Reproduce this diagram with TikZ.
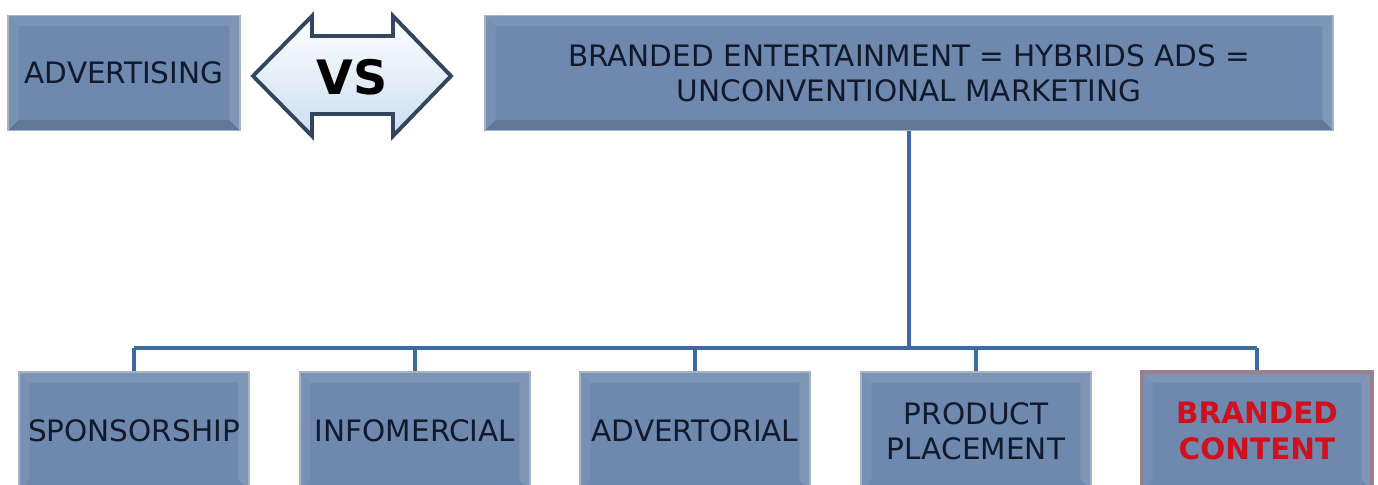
\documentclass[tikz,border=0pt]{standalone}
\usepackage{fontspec}
\setmainfont{DejaVu Sans}
\usetikzlibrary{calc}
\definecolor{boxblue}{HTML}{6E88AE}
\definecolor{boxedge}{HTML}{A7B2C2}
\definecolor{textnavy}{HTML}{111A2C}
\definecolor{linkblue}{HTML}{3F69A3}
\definecolor{vsred}{HTML}{D0101C}
\definecolor{vsfill}{HTML}{CADDF1}
\definecolor{vsedge}{HTML}{34465F}
\definecolor{hiedge}{HTML}{9A7F8C}

\begin{document}
\begin{tikzpicture}[x=0.02cm,y=-0.02cm,
  % bevel strips on top, left and right edge
  bevelsides/.style={path picture={
    \fill[white,opacity=0.10] (path picture bounding box.north west) -- (path picture bounding box.north east)
      -- ([shift={(-6pt,-6pt)}]path picture bounding box.north east) -- ([shift={(6pt,-6pt)}]path picture bounding box.north west) -- cycle;
    \fill[white,opacity=0.07] (path picture bounding box.north west) -- (path picture bounding box.south west)
      -- ([shift={(6pt,6pt)}]path picture bounding box.south west) -- ([shift={(6pt,-6pt)}]path picture bounding box.north west) -- cycle;
    \fill[white,opacity=0.12] (path picture bounding box.north east) -- (path picture bounding box.south east)
      -- ([shift={(-6pt,6pt)}]path picture bounding box.south east) -- ([shift={(-6pt,-6pt)}]path picture bounding box.north east) -- cycle;
  }},
  % same, with the darker bottom strip
  bevel/.style={path picture={
    \fill[white,opacity=0.10] (path picture bounding box.north west) -- (path picture bounding box.north east)
      -- ([shift={(-6pt,-6pt)}]path picture bounding box.north east) -- ([shift={(6pt,-6pt)}]path picture bounding box.north west) -- cycle;
    \fill[white,opacity=0.07] (path picture bounding box.north west) -- (path picture bounding box.south west)
      -- ([shift={(6pt,6pt)}]path picture bounding box.south west) -- ([shift={(6pt,-6pt)}]path picture bounding box.north west) -- cycle;
    \fill[white,opacity=0.12] (path picture bounding box.north east) -- (path picture bounding box.south east)
      -- ([shift={(-6pt,6pt)}]path picture bounding box.south east) -- ([shift={(-6pt,-6pt)}]path picture bounding box.north east) -- cycle;
    \fill[black,opacity=0.12] (path picture bounding box.south west) -- (path picture bounding box.south east)
      -- ([shift={(-6pt,6pt)}]path picture bounding box.south east) -- ([shift={(6pt,6pt)}]path picture bounding box.south west) -- cycle;
  }},
  tile/.style={rectangle,fill=boxblue,draw=boxedge,line width=0.8pt,
               font=\fontsize{16.8}{20}\selectfont,text=textnavy,align=center,inner sep=0pt},
  headbox/.style={tile,bevel,minimum height=2.3cm},
  leafbox/.style={tile,bevelsides,minimum width=4.6cm,minimum height=2.36cm},
  link/.style={draw=linkblue,line width=2.2pt}
]
  \clip (0,0) rectangle (1378,484);
  \fill[white] (0,0) rectangle (1378,484);

  % ---- Top row: advertising vs branded entertainment ----------
  \node[headbox,minimum width=4.64cm] (adv) at (124,73) {ADVERTISING};

  \fill[top color=white,bottom color=vsfill,draw=vsedge,line width=2.2pt,line join=miter]
    (253,76) -- (312,16) -- (312,36) -- (393,36) -- (393,16) -- (451,76)
    -- (393,136) -- (393,114) -- (312,114) -- (312,136) -- cycle;
  \node[font=\fontsize{27}{27}\bfseries,text=black] (vs) at (352,77) {VS};

  \node[headbox,minimum width=16.96cm] (main) at (909,73)
    {BRANDED ENTERTAINMENT = HYBRIDS ADS =\\UNCONVENTIONAL MARKETING};

  % ---- Bottom row: the hybrid formats -------------------------
  \node[leafbox] (spon) at (134,431) {SPONSORSHIP};
  \node[leafbox] (info) at (415,431) {INFOMERCIAL};
  \node[leafbox] (advt) at (695,431) {ADVERTORIAL};
  \node[leafbox] (prod) at (976,431) {PRODUCT\\PLACEMENT};
  \node[leafbox,draw=hiedge,line width=2pt,text=vsred,font=\fontsize{16.8}{20}\bfseries]
    (bcon) at (1257,431) {BRANDED\\CONTENT};

  % ---- Tree connectors ----------------------------------------
  \coordinate (bus) at (909,348);
  \draw[link] (main.south) -- (bus);
  \draw[link] (bus -| spon.north) -- (bus -| bcon.north);
  \draw[link] (bus -| spon.north) -- (spon.north);
  \draw[link] (bus -| info.north) -- (info.north);
  \draw[link] (bus -| advt.north) -- (advt.north);
  \draw[link] (bus -| prod.north) -- (prod.north);
  \draw[link] (bus -| bcon.north) -- (bcon.north);

\end{tikzpicture}
\end{document}
